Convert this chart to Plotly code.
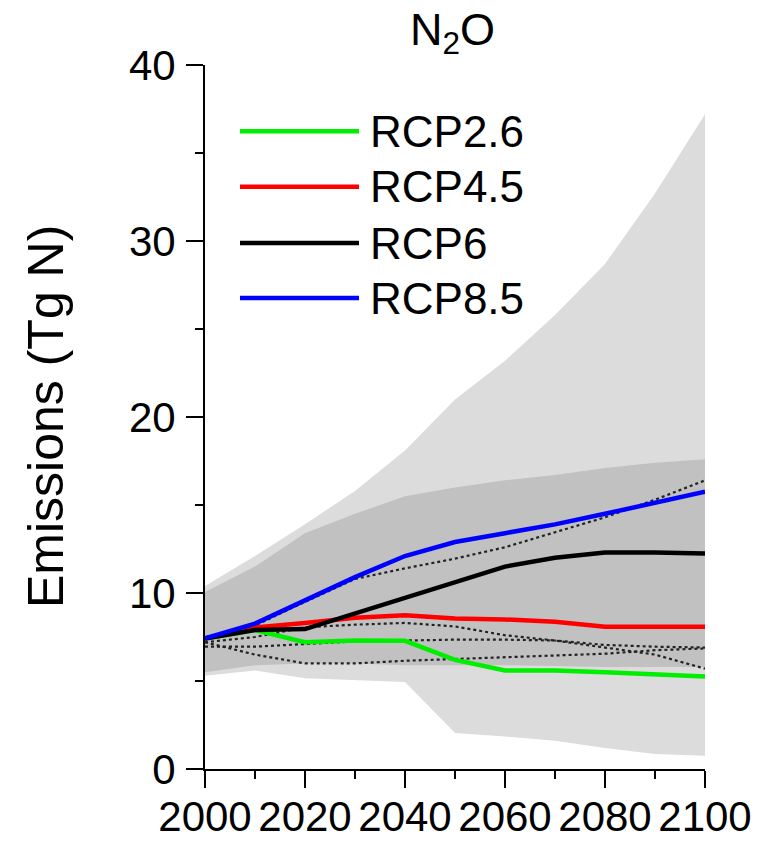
import plotly.graph_objects as go

years = [2000, 2010, 2020, 2030, 2040, 2050, 2060, 2070, 2080, 2090, 2100]

rcp26 = [7.42, 7.9, 7.2, 7.3, 7.28, 6.2, 5.6, 5.6, 5.5, 5.4, 5.25]
rcp45 = [7.42, 8.04, 8.3, 8.6, 8.74, 8.55, 8.5, 8.36, 8.08, 8.08, 8.08]
rcp6 = [7.42, 7.9, 7.95, 8.83, 9.77, 10.6, 11.5, 12.0, 12.3, 12.3, 12.25]
rcp85 = [7.42, 8.26, 9.58, 10.9, 12.1, 12.9, 13.4, 13.9, 14.5, 15.15, 15.75]

range_light_hi = [10.4, 12.1, 13.9, 15.8, 18.1, 21.0, 23.2, 25.8, 28.7, 32.7, 37.2]
range_light_lo = [5.3, 5.6, 5.15, 5.05, 4.95, 2.05, 1.85, 1.6, 1.2, 0.85, 0.75]
range_dark_hi = [10.05, 11.5, 13.4, 14.5, 15.5, 16.0, 16.4, 16.7, 17.1, 17.4, 17.6]
range_dark_lo = [5.5, 5.9, 6.0, 6.0, 5.9, 5.9, 5.9, 5.85, 5.8, 5.8, 5.8]

other_1 = [7.4, 8.15, 9.5, 10.8, 11.4, 11.95, 12.6, 13.45, 14.3, 15.3, 16.4]
other_2 = [7.2, 7.5, 8.05, 8.2, 8.3, 8.1, 7.6, 7.3, 6.9, 6.5, 5.7]
other_3 = [6.95, 6.95, 7.1, 7.25, 7.3, 7.35, 7.35, 7.3, 7.05, 6.95, 6.9]
other_4 = [7.2, 6.5, 6.0, 6.0, 6.15, 6.25, 6.35, 6.45, 6.55, 6.75, 6.85]

series_names = ["RCP2.6", "RCP4.5", "RCP6", "RCP8.5"]
series_values = [rcp26, rcp45, rcp6, rcp85]
series_colors = ["#00ee00", "#ff0000", "#000000", "#0000ff"]

y_ticks = [0, 10, 20, 30, 40]
x_ticks = [2000, 2020, 2040, 2060, 2080, 2100]

FONT = "Liberation Sans, Arial, Helvetica, sans-serif"

fig = go.Figure()

# outer (light) range
fig.add_trace(go.Scatter(x=years, y=range_light_lo, mode="lines", line=dict(width=0),
                         showlegend=False, hoverinfo="skip"))
fig.add_trace(go.Scatter(x=years, y=range_light_hi, mode="lines", line=dict(width=0),
                         fill="tonexty", fillcolor="#dcdcdc", showlegend=False, hoverinfo="skip"))
# inner (dark) range
fig.add_trace(go.Scatter(x=years, y=range_dark_lo, mode="lines", line=dict(width=0),
                         showlegend=False, hoverinfo="skip"))
fig.add_trace(go.Scatter(x=years, y=range_dark_hi, mode="lines", line=dict(width=0),
                         fill="tonexty", fillcolor="#c1c1c1", showlegend=False, hoverinfo="skip"))

for vals in [other_1, other_2, other_3, other_4]:
    fig.add_trace(go.Scatter(x=years, y=vals, mode="lines",
                             line=dict(color="#222222", width=2.2, dash="3px,3px"),
                             showlegend=False, hoverinfo="skip"))

for name, vals, col in zip(series_names, series_values, series_colors):
    fig.add_trace(go.Scatter(x=years, y=vals, mode="lines", name=name,
                             line=dict(color=col, width=4.5), showlegend=False))

# legend drawn as shapes + text
leg_y = [0.906, 0.827, 0.747, 0.669]
for name, col, ly in zip(series_names, series_colors, leg_y):
    fig.add_shape(type="line", xref="paper", yref="paper", x0=0.07, x1=0.308, y0=ly, y1=ly,
                  line=dict(color=col, width=4.5))
    fig.add_annotation(xref="paper", yref="paper", x=0.326, y=ly, text=name, showarrow=False,
                       xanchor="left", yanchor="middle", font=dict(size=44, color="black", family=FONT))

fig.add_annotation(xref="paper", yref="paper", x=0.495, y=1.0, yshift=2, text="N<sub>2</sub>O",
                   showarrow=False, xanchor="center", yanchor="bottom",
                   font=dict(size=45, color="black", family=FONT))
fig.add_annotation(xref="paper", yref="paper", x=-0.318, y=0.5, text="Emissions (Tg N)",
                   textangle=-90, showarrow=False, xanchor="center", yanchor="middle",
                   font=dict(size=50, color="black", family=FONT))

fig.update_layout(
    width=765, height=833,
    margin=dict(l=197, r=68, t=57, b=72, autoexpand=False),
    paper_bgcolor="white", plot_bgcolor="white",
    font=dict(family=FONT, size=42, color="black"),
    showlegend=False,
)
fig.update_xaxes(range=[2000, 2100], tickvals=x_ticks, ticks="outside", ticklen=17, tickwidth=2,
                 tickcolor="black", showline=True, linecolor="black", linewidth=2,
                 showgrid=False, zeroline=False, ticklabelstandoff=-7, automargin=False,
                 minor=dict(ticks="outside", ticklen=8, tickwidth=2, tickcolor="black", dtick=10,
                            tick0=2000, showgrid=False),
                 tickfont=dict(size=42, family=FONT))
fig.update_yaxes(range=[0, 40], tickvals=y_ticks, ticks="outside", ticklen=17, tickwidth=2,
                 tickcolor="black", showline=True, linecolor="black", linewidth=2,
                 showgrid=False, zeroline=False, ticklabelstandoff=2, automargin=False,
                 minor=dict(ticks="outside", ticklen=8, tickwidth=2, tickcolor="black", dtick=5,
                            tick0=0, showgrid=False),
                 tickfont=dict(size=42, family=FONT))

fig.write_html("out.html")
